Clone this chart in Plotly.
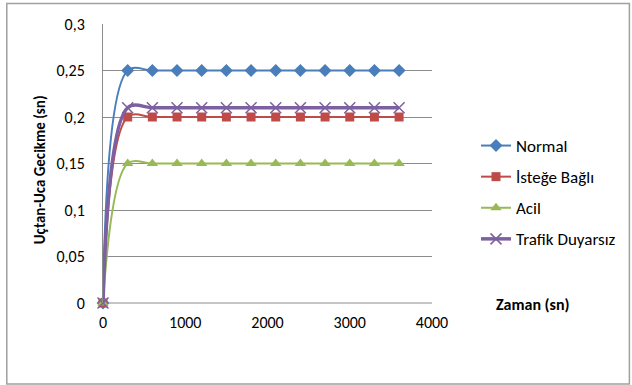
import plotly.graph_objects as go

zaman = [0, 300, 600, 900, 1200, 1500, 1800, 2100, 2400, 2700, 3000, 3300, 3600]
normal = [0, 0.25, 0.25, 0.25, 0.25, 0.25, 0.25, 0.25, 0.25, 0.25, 0.25, 0.25, 0.25]
istege = [0, 0.2, 0.2, 0.2, 0.2, 0.2, 0.2, 0.2, 0.2, 0.2, 0.2, 0.2, 0.2]
acil = [0, 0.15, 0.15, 0.15, 0.15, 0.15, 0.15, 0.15, 0.15, 0.15, 0.15, 0.15, 0.15]
trafik = [0, 0.21, 0.21, 0.21, 0.21, 0.21, 0.21, 0.21, 0.21, 0.21, 0.21, 0.21, 0.21]

FONT = "Carlito, Lato, 'Open Sans', sans-serif"

series = [
    ("Normal", normal, "#4A7EBB", "diamond", 10, 2),
    ("İsteğe Bağlı", istege, "#BE4B48", "square", 9, 2),
    ("Acil", acil, "#98B954", "triangle-up", 10, 2),
    ("Trafik Duyarsız", trafik, "#7D60A0", "x-thin-open", 11, 3.5),
]

fig = go.Figure()
for i, (name, vals, color, sym, size, width) in enumerate(series):
    fig.add_trace(go.Scatter(
        x=zaman, y=vals, name=name, mode="lines+markers",
        line=dict(color=color, width=width, shape="spline", smoothing=1.0),
        marker=dict(symbol=sym, size=size, color=color,
                    line=dict(color=color, width=1.5 if sym.startswith("x") else 0)),
        legendgroup=f"g{i}", cliponaxis=False,
    ))

L, T, R, B = 103, 24, 433, 303
PW, PH = R - L, B - T

def px(x):
    return (x - L) / PW

def py(y):
    return (B - y) / PH

fig.update_layout(
    width=632, height=385,
    margin=dict(l=L, r=632 - R, t=T, b=385 - B),
    paper_bgcolor="white", plot_bgcolor="white",
    font=dict(family=FONT, size=16, color="#000000"),
    showlegend=True,
    legend=dict(x=px(476), y=py(128), xanchor="left", yanchor="top",
                font=dict(family=FONT, size=17), tracegroupgap=6,
                bgcolor="rgba(0,0,0,0)"),
    xaxis=dict(range=[0, 4000], tickvals=[0, 1000, 2000, 3000, 4000],
               showgrid=False, zeroline=False, showline=False,
               ticks="", ticklabelstandoff=8, automargin=False),
    yaxis=dict(range=[0, 0.3], tickvals=[0, 0.05, 0.1, 0.15, 0.2, 0.25, 0.3],
               ticktext=["0", "0,05", "0,1", "0,15", "0,2", "0,25", "0,3"],
               showgrid=True, gridcolor="#8C8C8C", gridwidth=1,
               zeroline=False, showline=True, linecolor="#8C8C8C",
               ticks="", ticklabelstandoff=14, automargin=False),
    annotations=[
        dict(text="<b>Zaman (sn)</b>", xref="paper", yref="paper",
             x=px(534), y=py(304), xanchor="center", yanchor="middle",
             showarrow=False, font=dict(family=FONT, size=16)),
        dict(text="<b>Uçtan-Uca Gecikme (sn)</b>", xref="paper", yref="paper",
             x=px(40), y=py(170), xanchor="center", yanchor="middle",
             textangle=-90, showarrow=False, font=dict(family=FONT, size=15)),
    ],
    shapes=[
        dict(type="line", xref="paper", yref="paper", x0=0, x1=1, y0=0, y1=0,
             line=dict(color="#8C8C8C", width=1), layer="below"),
        dict(type="rect", xref="paper", yref="paper",
             x0=px(6.5), x1=px(631), y0=py(384), y1=py(3.5),
             line=dict(color="#A0A0A0", width=1.5), fillcolor="rgba(0,0,0,0)"),
    ],
)

fig.write_html("out.html", config={"displayModeBar": False},
               post_script="document.body.style.margin='0';document.body.style.overflow='hidden';")
